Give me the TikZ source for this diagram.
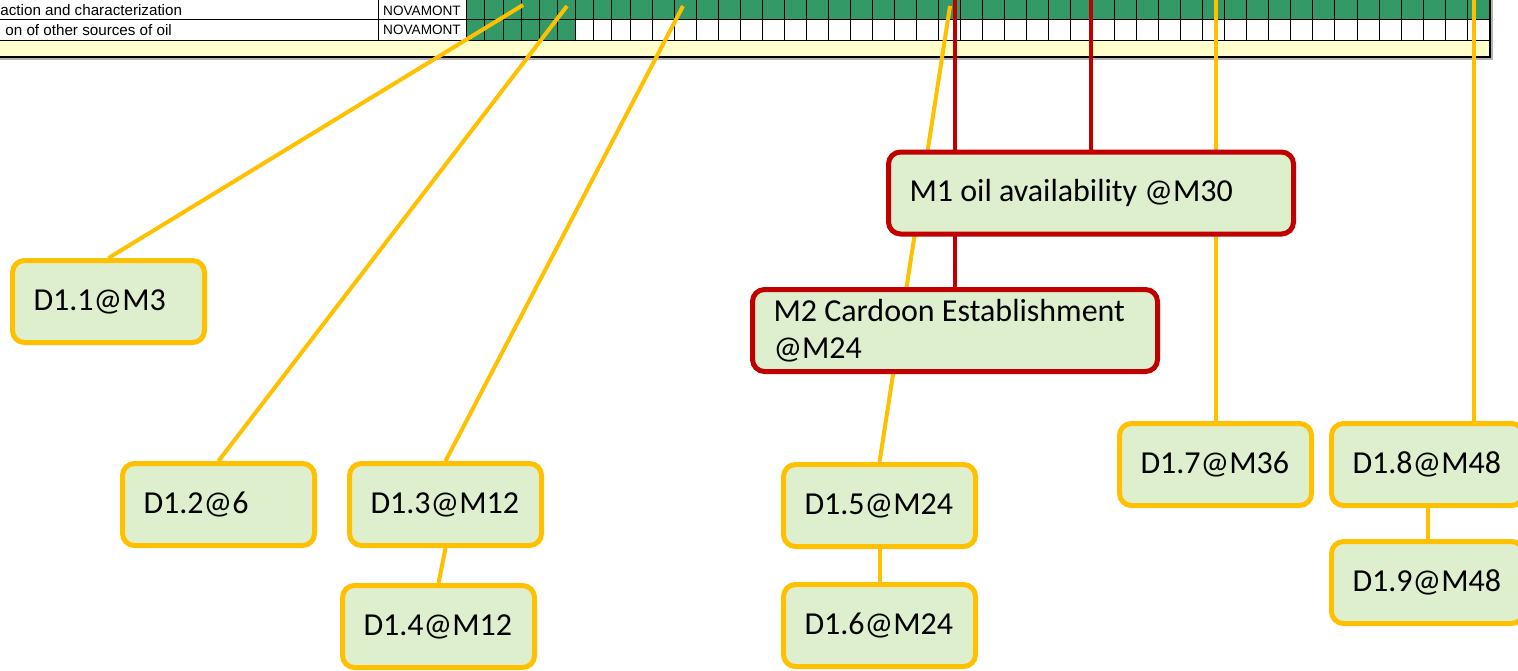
\documentclass[tikz,border=0pt]{standalone}
\usepackage{fontspec}
\setmainfont{Carlito}
\newfontfamily\gridfont{Liberation Sans}
\usetikzlibrary{positioning,backgrounds}
\definecolor{ganttgreen}{RGB}{51,153,102}
\definecolor{bandyellow}{RGB}{255,255,204}
\definecolor{boxfill}{RGB}{222,239,205}
\definecolor{delivline}{RGB}{255,192,0}
\definecolor{milesline}{RGB}{192,0,0}
\tikzset{
    deliv/.style = {draw=delivline, fill=boxfill, line width=2.5pt,
        rounded corners=6pt, minimum height=41pt,
        text width=75pt, inner xsep=10.5pt, inner ysep=2pt, align=flush left,
        font=\fontsize{16}{18.5}\selectfont},
    miles/.style = {deliv, draw=milesline, text width=181.5pt},
    dlink/.style = {draw=delivline, line width=2pt},
    mlink/.style = {draw=milesline, line width=2pt},
    gridline/.style = {draw=black, line width=0.5pt},
    tasktext/.style = {font=\gridfont\fontsize{7.6}{8}\selectfont, inner sep=0pt},
    leadtext/.style = {tasktext, font=\gridfont\fontsize{6.8}{7}\selectfont}
}

\begin{document}
\begin{tikzpicture}[x=0.5pt, y=-0.5pt]
        \useasboundingbox (0,0) rectangle (1518,670);
        % deliverables
        \node [deliv] (d11) at (108.5,301.5) {D1.1@M3};
        \node [deliv] (d12) at (218.5,504.5) {D1.2@6};
        \node [deliv] (d13) at (445.5,504.5) {D1.3@M12};
        \node [deliv] (d14) at (438.5,626.5) {D1.4@M12};
        \node [deliv] (d15) at (879.5,505.5) {D1.5@M24};
        \node [deliv, below of=d15, node distance=60pt] (d16) {D1.6@M24};
        \node [deliv] (d17) at (1215.5,464.5) {D1.7@M36};
        \node [deliv] (d18) at (1427.5,464.5) {D1.8@M48};
        \node [deliv, below of=d18, node distance=59pt] (d19) {D1.9@M48};
        % milestones
        \node [miles] (m1) at (1091,193) {M1 oil availability @M30};
        \node [miles] (m2) at (955,330.5) {M2 Cardoon Establishment @M24};

        \begin{pgfonlayer}{background}
        \fill[white] (0,0) rectangle (1518,670);
        % gantt rows
        \fill[ganttgreen] (466.7,-2) rectangle (1489.3,19.5);
        \fill[ganttgreen] (466.7,19.5) rectangle (575.7,40);
        \fill[bandyellow] (-2,40) rectangle (1489.3,56.5);
        \foreach \a in {0,...,9}
            \draw[gridline] ({466.7+\a*18.15},-2) -- ++(0,42);
        \foreach \a in {1,...,39}
            \draw[gridline] ({630+\a*22.03},-2) -- ++(0,42);
        \draw[gridline] (378,-2) -- (378,40);
        \foreach \y in {19.5,40}
            \draw[gridline] (-2,\y) -- (1489.3,\y);
        \draw[gray!60, line width=1pt] (-2,58.5) -- (1492,58.5) -- (1492,-2);
        \draw[black, line width=1pt] (-2,57) -- (1490.3,57) -- (1490.3,-2);
        \node [tasktext, anchor=west] (task1) at (0,10.5) {action and characterization};
        \node [tasktext, anchor=west] (task2) at (5,30) {on of other sources of oil};
        \node [leadtext] (lead1) at (422,10.5) {NOVAMONT};
        \node [leadtext] (lead2) at (422,30) {NOVAMONT};
        % month marks
        \coordinate (t3) at (523,5);
        \coordinate (t6) at (567,6);
        \coordinate (t12) at (683,6);
        \coordinate (t24) at (950,6);
        \coordinate (t36) at (1216,-2);
        \coordinate (t48) at (1474,-2);
        \end{pgfonlayer}

        \begin{pgfonlayer}{background}
        \draw[dlink] (d11.north) -- (t3);
        \draw[dlink] (d12.north) -- (t6);
        \draw[dlink] (d13.north) -- (t12);
        \draw[dlink] (d13.south) -- (d14.north);
        \draw[dlink] (d15.north) -- (t24);
        \draw[dlink] (d15.south) -- (d16.north);
        \draw[dlink] (d17.north |- t36) -- (d17.north);
        \draw[dlink] (t48) -- (t48 |- d18.north);
        \draw[dlink] (d18.south) -- (d19.north);
        \draw[mlink] (m2.north |- t36) -- (m2.north);
        \draw[mlink] (m1.north |- t36) -- (m1.north);
        \end{pgfonlayer}
\end{tikzpicture}
\end{document}
